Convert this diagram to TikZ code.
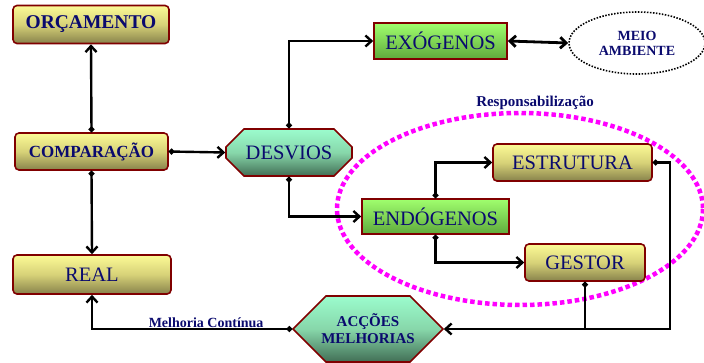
\documentclass[tikz,border=0pt]{standalone}
\usepackage{fontspec}
\setmainfont{LiberationSerif}[Extension=.ttf, UprightFont=*-Regular, BoldFont=*-Bold, ItalicFont=*-Italic, BoldItalicFont=*-BoldItalic]
\usetikzlibrary{arrows.meta,shapes.misc,shapes.geometric}
\definecolor{navy}{RGB}{10,10,110}
\definecolor{bord}{RGB}{128,0,0}
\definecolor{ytop}{RGB}{252,250,150}
\definecolor{ymid}{RGB}{215,210,120}
\definecolor{ybot}{RGB}{135,130,75}
\definecolor{gtop}{RGB}{160,255,110}
\definecolor{gbot}{RGB}{95,170,60}
\definecolor{mtop}{RGB}{155,252,205}
\definecolor{mmid}{RGB}{135,215,170}
\definecolor{mbot}{RGB}{65,110,85}
\definecolor{mag}{RGB}{255,0,255}
\tikzset{
  ybox/.style={draw=bord, line width=1.6pt, rounded corners=4pt, top color=ytop, bottom color=ybot, middle color=ymid, text=navy, inner sep=0pt},
  gbox/.style={draw=bord, line width=1.6pt, top color=gtop, bottom color=gbot, text=navy, inner sep=0pt},
  obox/.style={chamfered rectangle, draw=bord, line width=1.6pt, top color=mtop, bottom color=mbot, middle color=mmid, text=navy, inner sep=0pt},
  big/.style={font=\fontsize{20.5}{22}\selectfont},
  conn/.style={line width=2.4pt, {Circle[length=5.5pt]}-{Straight Barb[length=6pt,width=11pt]}},
  plain/.style={line width=2.4pt, {Circle[length=5.5pt]}-},
}
\begin{document}
\begin{tikzpicture}[x=1pt,y=-1pt]
\useasboundingbox (0,0) rectangle (704,362);
% magenta ellipse
\draw[mag, line width=4.5pt, dash pattern=on 4.5pt off 3pt] (520,209) ellipse [x radius=183, y radius=96];
\node[font=\bfseries\fontsize{15}{16}\selectfont, text=navy] (resp) at (535,103) {Responsabilização};

\node[ybox, minimum width=156pt, minimum height=38pt, font=\bfseries\fontsize{19.5}{20}\selectfont] (orc) at (91,24.5) {ORÇAMENTO};
\node[ybox, minimum width=153pt, minimum height=37pt, font=\bfseries\fontsize{17}{18}\selectfont] (comp) at (91.5,151.5) {COMPARAÇÃO};
\node[ybox, big, minimum width=158pt, minimum height=39pt] (real) at (92,274.5) {REAL};
\node[obox, big, minimum width=126pt, minimum height=47pt, chamfered rectangle xsep=11pt, chamfered rectangle ysep=11pt] (desv) at (289,152.5) {DESVIOS};
\node[gbox, big, minimum width=133pt, minimum height=36pt] (exo) at (440.5,41) {EXÓGENOS};
\node[draw=black, line width=1.6pt, dash pattern=on 1.5pt off 1.5pt, ellipse, minimum width=136pt, minimum height=62pt, text=navy, align=center, font=\bfseries\fontsize{14}{15}\selectfont, inner sep=0pt] (meio) at (637,43) {MEIO\\AMBIENTE};
\node[ybox, big, minimum width=159pt, minimum height=37pt] (estr) at (572.5,162.5) {ESTRUTURA};
\node[gbox, big, minimum width=147pt, minimum height=35pt] (endo) at (435.5,216.5) {ENDÓGENOS};
\node[ybox, big, minimum width=120pt, minimum height=37pt] (gest) at (585,262.5) {GESTOR};
\node[obox, minimum width=150pt, minimum height=63pt, chamfered rectangle xsep=18pt, chamfered rectangle ysep=18pt, align=center, font=\bfseries\fontsize{15}{17}\selectfont] (acc) at (368,329) {ACÇÕES\\MELHORIAS};

\coordinate (turn) at (670,329);

\draw[conn] (comp.north) -- (orc.south);
\draw[conn] (comp.south) -- (real.north);
\draw[conn] (comp.east) -- (desv.west);
\draw[conn] (desv.north) |- (exo.west);
\draw[conn] (desv.south) |- (endo.west);
\draw[line width=2.8pt, {Straight Barb[length=6pt,width=11pt]}-{Straight Barb[length=6pt,width=11pt]}] (exo.east) -- (meio.west);
\draw[conn] (endo.north) |- (estr.west);
\draw[conn] (endo.south) |- (gest.west);
\draw[conn] (estr.east) -| (turn) -- (acc.east);
\draw[plain] (gest.south) -- (gest.south |- turn);
\draw[conn] (acc.west) -| node[pos=0.215, above=-3pt, text=navy, font=\bfseries\fontsize{14}{15}\selectfont] (mel) {Melhoria Contínua} (real.south);
\end{tikzpicture}
\end{document}
